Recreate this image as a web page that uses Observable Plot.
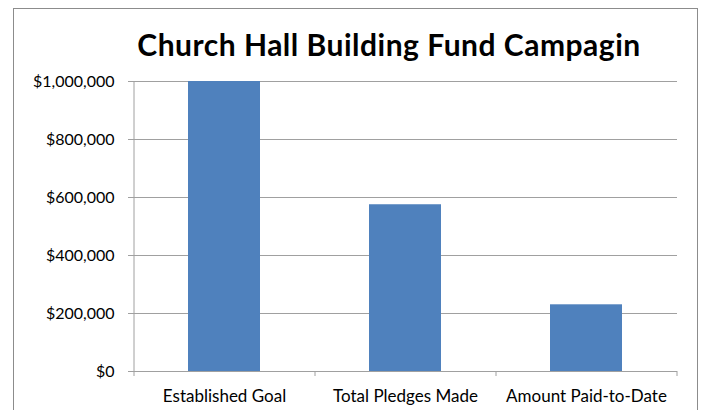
<!DOCTYPE html>
<html><head><meta charset="utf-8">
<script src="https://cdn.jsdelivr.net/npm/d3@7"></script>
<script src="https://cdn.jsdelivr.net/npm/@observablehq/plot@0.6"></script>
<style>
body{margin:0;background:#fff;}
#wrap{position:relative;width:701px;height:410px;overflow:hidden;background:#fff;}
#border{position:absolute;left:13px;top:8px;width:683px;height:420px;border:1.5px solid #8c8c8c;}
#title{position:absolute;left:0;top:26px;width:778px;text-align:center;font-family:Lato,sans-serif;font-weight:700;font-size:30px;letter-spacing:0.5px;color:#000;}
#chart{position:absolute;left:0;top:70px;}
</style></head>
<body><div id="wrap"><div id="border"></div><div id="title">Church Hall Building Fund Campagin</div><div id="chart"></div></div>
<script>
const categories = ["Established Goal", "Total Pledges Made", "Amount Paid-to-Date"];
const values = [1000000, 575000, 230000];
const yTicks = [0, 200000, 400000, 600000, 800000, 1000000];
const data = categories.map((c, i) => ({category: c, value: values[i]}));
const fmt = d => "$" + d3.format(",")(d);

const plot = Plot.plot({
  width: 701, height: 340,
  marginTop: 11, marginBottom: 39, marginLeft: 134, marginRight: 24,
  style: {fontFamily: "Lato, sans-serif", fontSize: "16px", color: "#000", background: "transparent"},
  x: {domain: categories, paddingInner: 0.6, paddingOuter: 0.3, label: null},
  y: {domain: [0, 1000000], ticks: yTicks, label: null},
  marks: [
    Plot.gridY(yTicks.filter(d => d > 0), {stroke: "#a0a0a0", strokeOpacity: 1, strokeWidth: 1}),
    Plot.barY(data, {x: "category", y: "value", fill: "#4f81bd"}),
    Plot.axisY(yTicks, {tickFormat: fmt, tickSize: 6, tickPadding: 14, stroke: "#a0a0a0", fontSize: 16, style: {letterSpacing: "1px"}}),
    Plot.axisX({tickSize: 0, tickPadding: 18, fontSize: 17}),
    Plot.ruleY([0], {stroke: "#a0a0a0"})
  ]
});
document.getElementById("chart").appendChild(plot);

// axis line and band-boundary ticks derived from the plot's scales
const xs = plot.scale("x"), ys = plot.scale("y");
const svg = d3.select(plot);
const y0 = ys.apply(0), y1 = ys.apply(1000000);
const [r0, r1] = xs.range;
const step = (r1 - r0) / categories.length;
svg.append("line").attr("x1", r0).attr("x2", r0).attr("y1", y1).attr("y2", y0 + 5).attr("stroke", "#a0a0a0");
for (let i = 1; i <= categories.length; i++) {
  const x = r0 + i * step;
  svg.append("line").attr("x1", x).attr("x2", x).attr("y1", y0).attr("y2", y0 + 5).attr("stroke", "#a0a0a0");
}
</script></body></html>
